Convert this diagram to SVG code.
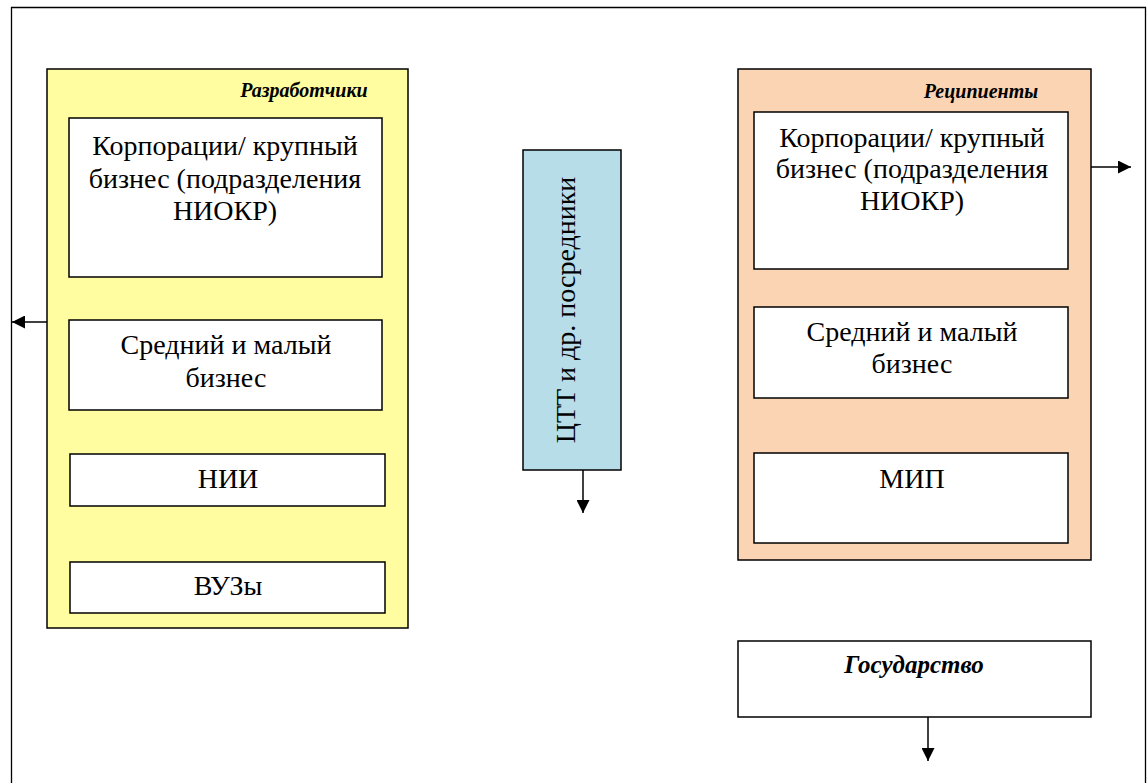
<svg xmlns="http://www.w3.org/2000/svg" width="1147" height="783" viewBox="0 0 1147 783">
  <defs>
    <marker id="arrow" viewBox="0 0 10 10" refX="10" refY="5" markerWidth="13" markerHeight="13" markerUnits="userSpaceOnUse" orient="auto">
      <path d="M0,0 L10,5 L0,10 Z" fill="#000"/>
    </marker>
    <style>
      .frame { fill: #fff; stroke: #000; stroke-width: 1.3; }
      .box { fill: #fff; stroke: #000; stroke-width: 1.5; }
      .dev { fill: #FFFD9F; stroke: #000; stroke-width: 1.5; }
      .rec { fill: #FBD4B4; stroke: #000; stroke-width: 1.5; }
      .mid { fill: #B7DDE8; stroke: #000; stroke-width: 1.5; }
      .t { font-family: "Liberation Serif", "Times New Roman", serif; font-size: 28px; fill: #000; text-anchor: middle; }
      .h { font-family: "Liberation Serif", "Times New Roman", serif; font-size: 20px; font-weight: bold; font-style: italic; fill: #000; text-anchor: middle; }
      .conn { stroke: #000; stroke-width: 1.5; fill: none; marker-end: url(#arrow); }
    </style>
  </defs>

  <!-- outer frame -->
  <path d="M11.5,783 V7.5 H1145.5 V783" class="frame"/>

  <!-- developers -->
  <g id="developers">
    <rect x="47" y="69" width="361" height="559" class="dev"/>
    <text x="304" y="97" class="h">Разработчики</text>
  </g>
  <g id="dev-corp">
    <rect x="69" y="118" width="313" height="159" class="box"/>
    <text class="t"><tspan x="225" y="155">Корпорации/ крупный</tspan><tspan x="225" y="188">бизнес (подразделения</tspan><tspan x="225" y="220">НИОКР)</tspan></text>
  </g>
  <g id="dev-sme">
    <rect x="69" y="320" width="313" height="90" class="box"/>
    <text class="t"><tspan x="226" y="354">Средний и малый</tspan><tspan x="226" y="387">бизнес</tspan></text>
  </g>
  <g id="dev-nii">
    <rect x="70" y="454" width="315" height="52" class="box"/>
    <text x="228" y="488" class="t">НИИ</text>
  </g>
  <g id="dev-vuz">
    <rect x="70" y="562" width="315" height="51" class="box"/>
    <text x="228" y="595" class="t">ВУЗы</text>
  </g>

  <!-- intermediaries -->
  <g id="intermediaries">
    <rect x="523" y="150" width="98" height="320" class="mid"/>
    <text transform="translate(575,310) rotate(-90)" x="0" y="0" class="t">ЦТТ и др. посредники</text>
  </g>

  <!-- recipients -->
  <g id="recipients">
    <rect x="738" y="69" width="353" height="491" class="rec"/>
    <text x="981" y="98" class="h">Реципиенты</text>
  </g>
  <g id="rec-corp">
    <rect x="754" y="112" width="314" height="157" class="box"/>
    <text class="t"><tspan x="912" y="147">Корпорации/ крупный</tspan><tspan x="912" y="178">бизнес (подразделения</tspan><tspan x="912" y="210">НИОКР)</tspan></text>
  </g>
  <g id="rec-sme">
    <rect x="754" y="307" width="314" height="91" class="box"/>
    <text class="t"><tspan x="912" y="341">Средний и малый</tspan><tspan x="912" y="373">бизнес</tspan></text>
  </g>
  <g id="rec-mip">
    <rect x="754" y="453" width="314" height="90" class="box"/>
    <text x="912" y="488" class="t">МИП</text>
  </g>

  <!-- state -->
  <g id="state">
    <rect x="738" y="641" width="353" height="76" class="box"/>
    <text x="914" y="673" class="h" style="font-size:25px">Государство</text>
  </g>

  <!-- connectors -->
  <g id="connectors">
    <line x1="47" y1="322" x2="12" y2="322" class="conn"/>
    <line x1="583" y1="470" x2="583" y2="513" class="conn"/>
    <line x1="1091" y1="167" x2="1131" y2="167" class="conn"/>
    <line x1="928" y1="717" x2="928" y2="761" class="conn"/>
  </g>
</svg>
